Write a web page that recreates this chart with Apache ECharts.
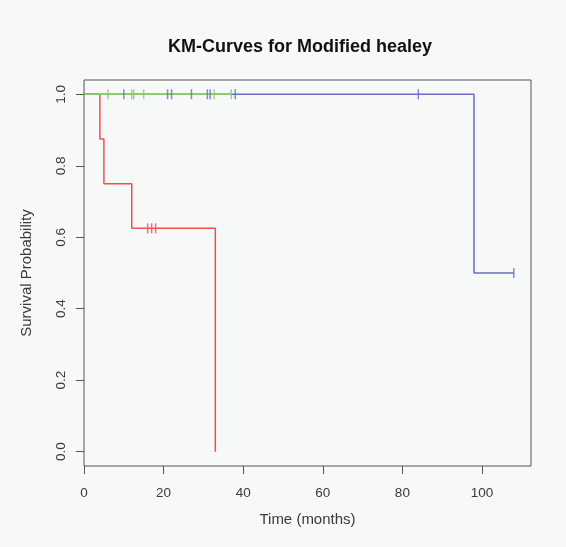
<!DOCTYPE html>
<html>
<head>
<meta charset="utf-8">
<script src="https://cdn.jsdelivr.net/npm/echarts@6/dist/echarts.min.js"></script>
<style>
html,body{margin:0;padding:0;background:#f7f8f8;}
#chart{width:566px;height:547px;}
</style>
</head>
<body>
<div id="chart"></div>
<script>
// ---- data ----
const titleText = "KM-Curves for Modified healey";
const xTicks = [0, 20, 40, 60, 80, 100];
const yTicks = [0, 0.2, 0.4, 0.6, 0.8, 1.0];

// red stratum: step curve (time, survival)
const redTimes = [0, 4, 5, 12, 33];
const redSurv  = [1, 0.875, 0.75, 0.625, 0];
const redCensorTimes = [16, 17, 18];
const redCensorSurv  = [0.625, 0.625, 0.625];

// green stratum
const greenTimes = [0, 37];
const greenSurv  = [1, 1];
const greenCensorTimes = [6, 12, 12.5, 15, 32.7, 37];
const greenCensorSurv  = [1, 1, 1, 1, 1, 1];

// blue stratum
const blueTimes = [0, 98, 108];
const blueSurv  = [1, 0.5, 0.5];
const blueCensorTimes = [10, 21, 22, 27, 31, 31.7, 38, 84, 108];
const blueCensorSurv  = [1, 1, 1, 1, 1, 1, 1, 1, 0.5];

const zip = (a, b) => a.map((v, i) => [v, b[i]]);

const RED = '#f05050', GREEN = '#84cd68', BLUE = '#6c6cc6';
const textColor = '#3a3a3a';

function stepSeries(name, times, surv, color, z) {
  return {
    name, type: 'line', step: 'end', data: zip(times, surv),
    symbol: 'none', z,
    lineStyle: { color, width: 1.5 }
  };
}
function censorSeries(name, times, surv, color, z) {
  return {
    name, type: 'scatter', data: zip(times, surv),
    symbol: 'rect', symbolSize: [1.5, 10], z,
    itemStyle: { color }
  };
}

const chart = echarts.init(document.getElementById('chart'), null, { renderer: 'canvas' });
chart.setOption({
  backgroundColor: '#f7f8f8',
  animation: false,
  title: {
    text: titleText,
    left: 163, top: 33,
    textStyle: { fontFamily: 'Liberation Sans', fontWeight: 'bold', fontSize: 18, color: '#111' }
  },
  grid: {
    left: 84, right: 35, top: 80, bottom: 81,
    show: true, borderColor: '#555', borderWidth: 1, backgroundColor: 'transparent'
  },
  xAxis: {
    type: 'value', min: 0, max: 112.32,
    name: 'Time (months)', nameLocation: 'middle', nameGap: 46,
    nameTextStyle: { fontFamily: 'Liberation Sans', fontSize: 15, color: textColor },
    axisLine: { show: false, onZero: false },
    splitLine: { show: false },
    axisTick: { show: true, inside: false, length: 8, customValues: xTicks, lineStyle: { color: '#555' } },
    axisLabel: {
      customValues: xTicks, margin: 20,
      fontFamily: 'Liberation Sans', fontSize: 13.5, color: textColor
    }
  },
  yAxis: {
    type: 'value', min: -0.04, max: 1.04,
    name: 'Survival Probability', nameLocation: 'middle', nameGap: 50, nameRotate: 90,
    nameTextStyle: { fontFamily: 'Liberation Sans', fontSize: 15, color: textColor },
    axisLine: { show: false, onZero: false },
    splitLine: { show: false },
    axisTick: { show: true, inside: false, length: 8, customValues: yTicks, lineStyle: { color: '#555' } },
    axisLabel: {
      customValues: yTicks, rotate: 90, margin: 16,
      formatter: v => v.toFixed(1),
      fontFamily: 'Liberation Sans', fontSize: 13.5, color: textColor
    }
  },
  series: [
    stepSeries('red', redTimes, redSurv, RED, 2),
    stepSeries('blue', blueTimes, blueSurv, BLUE, 3),
    stepSeries('green', greenTimes, greenSurv, GREEN, 4),
    censorSeries('redC', redCensorTimes, redCensorSurv, RED, 5),
    censorSeries('greenC', greenCensorTimes, greenCensorSurv, GREEN, 5),
    censorSeries('blueC', blueCensorTimes, blueCensorSurv, BLUE, 5)
  ]
});
</script>
</body>
</html>
